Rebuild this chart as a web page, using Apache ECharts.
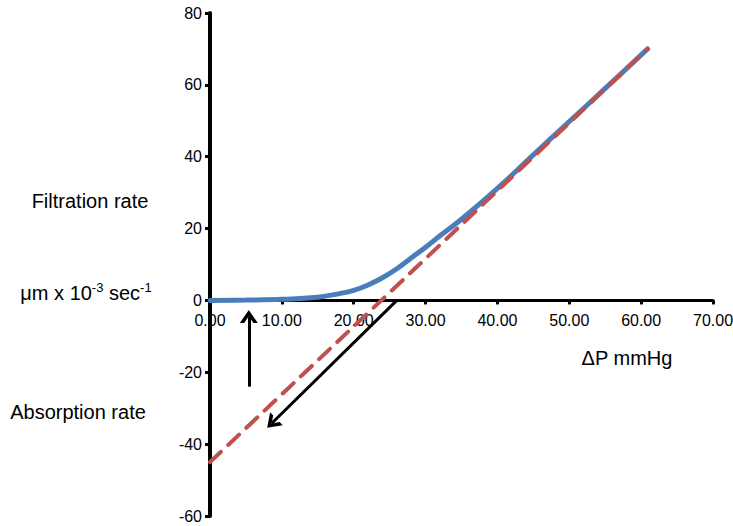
<!DOCTYPE html>
<html>
<head>
<meta charset="utf-8">
<script src="https://cdn.jsdelivr.net/npm/echarts@6/dist/echarts.min.js"></script>
<style>
  html, body { margin: 0; padding: 0; background: #fff; }
  #chart { width: 733px; height: 526px; }
</style>
</head>
<body>
<div id="chart"></div>
<script>
// blue curve (pressure, rate)
const curveX = [0, 5, 10, 15, 18, 20, 22, 24, 26, 28, 30, 32, 35, 40, 45, 50, 55, 60.9];
const curveY = [0, 0.1, 0.3, 0.9, 1.9, 2.8, 4.3, 6.3, 8.8, 11.8, 14.8, 18, 22.6, 31.2, 40.5, 49.8, 59, 70];

// red dashed extrapolation
const dashX = [0, 60.9];
const dashY = [-45, 70];

// arrows [from, to]
const upArrow = [[5.4, -24], [5.4, -4.5]];
const diagArrow = [[26, 0], [8.6, -34.2]];

const xTicks = [0, 10, 20, 30, 40, 50, 60, 70];
const yTicks = [-60, -40, -20, 0, 20, 40, 60, 80];

const chart = echarts.init(document.getElementById('chart'), null, { renderer: 'svg' });

const font = '"Liberation Sans", Arial, sans-serif';
const chevron = 'path://M0,12 L7,0 L14,12 L10.6,12 L7,5.6 L3.4,12 Z';

const gridTop = 13, gridBottom = 10;
const plotH = 526 - gridTop - gridBottom;
const yMin = yTicks[0], yMax = yTicks[yTicks.length - 1];
// put the x axis (line, ticks and labels) on y = 0
const xOffset = -plotH * (0 - yMin) / (yMax - yMin);

const arrowLine = (pts) => ({
  silent: true,
  symbol: ['none', chevron],
  symbolSize: [18, 13],
  label: { show: false },
  lineStyle: { color: '#000', width: 3, type: 'solid' },
  data: [[{ coord: pts[0] }, { coord: pts[1] }]],
});

const option = {
  animation: false,
  backgroundColor: '#fff',
  grid: { left: 210, right: 20, top: gridTop, bottom: gridBottom, containLabel: false, outerBoundsMode: 'none' },
  xAxis: {
    type: 'value',
    min: xTicks[0],
    max: xTicks[xTicks.length - 1],
    interval: 10,
    position: 'bottom',
    offset: xOffset,
    axisLine: { onZero: false, lineStyle: { color: '#000', width: 3 } },
    axisTick: { show: true, length: 4, lineStyle: { color: '#000', width: 3 } },
    axisLabel: {
      color: '#000', fontSize: 16, fontFamily: font, margin: 12,
      formatter: (v) => v.toFixed(2),
    },
    splitLine: { show: false },
  },
  yAxis: {
    type: 'value',
    min: yMin,
    max: yMax,
    interval: 20,
    axisLine: { onZero: false, lineStyle: { color: '#000', width: 4 } },
    axisTick: { show: true, length: 5, lineStyle: { color: '#000', width: 3 } },
    axisLabel: { color: '#000', fontSize: 16, fontFamily: font, margin: 8 },
    splitLine: { show: false },
  },
  series: [
    {
      name: 'curve',
      type: 'line',
      smooth: 0.4,
      showSymbol: false,
      data: curveX.map((x, i) => [x, curveY[i]]),
      lineStyle: { color: '#4a7ebb', width: 5, cap: 'round' },
      z: 3,
    },
    {
      name: 'extrapolation',
      type: 'line',
      showSymbol: false,
      data: dashX.map((x, i) => [x, dashY[i]]),
      lineStyle: { color: '#c0504d', width: 4, type: [15, 10], cap: 'round' },
      z: 4,
    },
    {
      name: 'arrows',
      type: 'line',
      data: [],
      markLine: arrowLine(upArrow),
      z: 5,
    },
    {
      name: 'arrows2',
      type: 'line',
      data: [],
      markLine: arrowLine(diagArrow),
      z: 5,
    },
  ],
  graphic: {
    elements: [
      {
        type: 'text', x: 90, y: 201,
        style: { text: 'Filtration rate', fontSize: 20, fontFamily: font, fill: '#000', align: 'center', verticalAlign: 'middle' },
      },
      {
        type: 'text', x: 86, y: 293,
        style: {
          text: 'μm x 10{s|-3} sec{s|-1}',
          fontSize: 20, fontFamily: font, fill: '#000', align: 'center', verticalAlign: 'middle',
          rich: { s: { fontSize: 13, fontFamily: font, verticalAlign: 'top', padding: [0, 0, 12, 0] } },
        },
      },
      {
        type: 'text', x: 78, y: 412,
        style: { text: 'Absorption rate', fontSize: 20, fontFamily: font, fill: '#000', align: 'center', verticalAlign: 'middle' },
      },
      {
        type: 'text', x: 627, y: 358,
        style: { text: 'ΔP mmHg', fontSize: 20, fontFamily: font, fill: '#000', align: 'center', verticalAlign: 'middle' },
      },
    ],
  },
};

chart.setOption(option);
</script>
</body>
</html>
